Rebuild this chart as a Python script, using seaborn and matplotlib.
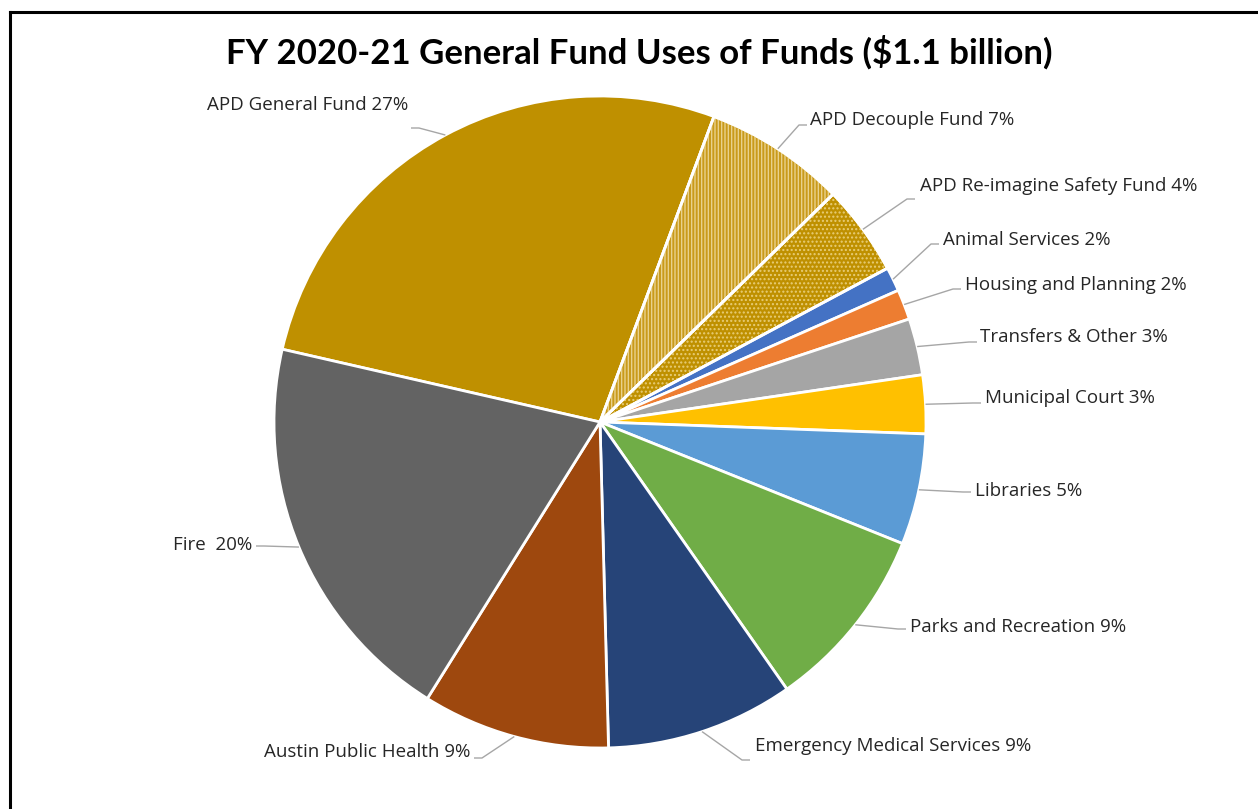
import matplotlib
matplotlib.use("Agg")
import matplotlib.pyplot as plt
import seaborn as sns
import numpy as np

# ---- data ----
categories = ["APD General Fund", "APD Decouple Fund", "APD Re-imagine Safety Fund",
              "Animal Services", "Housing and Planning", "Transfers & Other",
              "Municipal Court", "Libraries", "Parks and Recreation",
              "Emergency Medical Services", "Austin Public Health", "Fire"]
shares = [27.1, 7.0, 4.5, 1.2, 1.5, 2.8, 2.9, 5.5, 9.2, 9.3, 9.3, 19.7]
pct_labels = ["27%", "7%", "4%", "2%", "2%", "3%", "3%", "5%", "9%", "9%", "9%", "20%"]
colors = ["#BF9000", "#C99A1A", "#BF9000", "#4472C4", "#ED7D31", "#A5A5A5",
          "#FFC000", "#5B9BD5", "#70AD47", "#264478", "#9E480E", "#636363"]
hatches = [None, "|||||", "....", None, None, None, None, None, None, None, None, None]
hatch_colors = [None, "#E9D18C", "#E8CD78", None, None, None, None, None, None, None, None, None]
title = "FY 2020-21 General Fund Uses of Funds ($1.1 billion)"

# ---- layout (pixels) ----
W, H = 1258, 809
CX, CY, R = 600, 422, 326
# text anchor (x, y), ha, leader end (x, y)
label_layout = [
    ((408, 105), "right", (411, 128)),
    ((810, 120), "left", (807, 125)),
    ((920, 186), "left", (915, 199)),
    ((943, 240), "left", (939, 244)),
    ((965, 285), "left", (961, 289)),
    ((980, 337), "left", (977, 342)),
    ((985, 398), "left", (981, 403)),
    ((975, 491), "left", (971, 492)),
    ((910, 627), "left", (906, 629)),
    ((755, 746), "left", (750, 760)),
    ((470, 752), "right", (474, 758)),
    ((252, 545), "right", (256, 546)),
]

def X(px):
    return (px - CX) / R

def Y(py):
    return (CY - py) / R

sns.set_theme(style="white")
plt.rcParams["font.family"] = ["Open Sans", "DejaVu Sans"]
plt.rcParams["hatch.linewidth"] = 1.0

fig = plt.figure(figsize=(W / 100, H / 100), dpi=100)
fig.patch.set_facecolor("white")
ax = fig.add_axes([0, 0, 1, 1])

wedges, _ = ax.pie(shares, colors=colors, startangle=90 - 282.9, counterclock=False,
                   radius=1.0, wedgeprops=dict(edgecolor="white", linewidth=2.0))

# hatch overlays
for w, h, hc in zip(wedges, hatches, hatch_colors):
    if h:
        ov = matplotlib.patches.Wedge(w.center, w.r, w.theta1, w.theta2,
                                      facecolor="none", edgecolor=hc, hatch=h, linewidth=0)
        ax.add_patch(ov)
        w2 = matplotlib.patches.Wedge(w.center, w.r, w.theta1, w.theta2,
                                      facecolor="none", edgecolor="white", linewidth=2.0)
        ax.add_patch(w2)

ax.set_aspect("auto")
ax.set_xlim(X(0), X(W))
ax.set_ylim(Y(H), Y(0))
ax.axis("off")

# labels with leader lines
for w, cat, pct, (tpos, ha, end) in zip(wedges, categories, pct_labels, label_layout):
    mid = np.deg2rad((w.theta1 + w.theta2) / 2)
    px0, py0 = np.cos(mid) * w.r, np.sin(mid) * w.r
    ex, ey = X(end[0]), Y(end[1])
    stub = 8 / R if ha == "left" else -8 / R
    ax.plot([px0, ex - stub, ex], [py0, ey, ey], color="#A6A6A6", lw=1.0,
            solid_capstyle="butt", zorder=3)
    sep = "  " if cat == "Fire" else " "
    ax.text(X(tpos[0]), Y(tpos[1]), f"{cat}{sep}{pct}", ha=ha, va="center",
            fontsize=13.5, color="#262626", zorder=4)

ax.text(X(639), Y(52), title, ha="center", va="center", fontsize=25,
        fontweight="bold", color="black", parse_math=False,
        family=["Lato", "DejaVu Sans"])

# frame lines (left and top)
ax.plot([X(10), X(10)], [Y(809), Y(12)], color="black", lw=2.2, clip_on=False,
        solid_capstyle="projecting")
ax.plot([X(10), X(1258)], [Y(12), Y(12)], color="black", lw=2.2, clip_on=False,
        solid_capstyle="projecting")

fig.savefig("out.png", dpi=100, facecolor="white")
